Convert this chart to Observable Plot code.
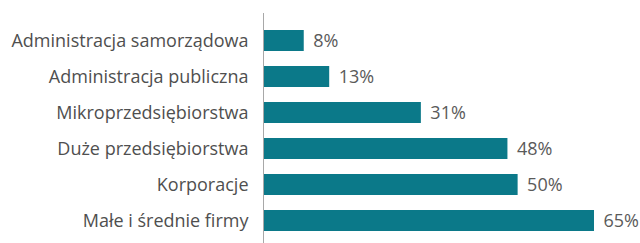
<!DOCTYPE html>
<html>
<head>
<meta charset="utf-8">
<script src="https://cdn.jsdelivr.net/npm/d3@7"></script>
<script src="https://cdn.jsdelivr.net/npm/@observablehq/plot@0.6"></script>
<style>
  html, body { margin: 0; padding: 0; background: #fff; }
  #chart svg { display: block; }
</style>
</head>
<body>
<div id="chart"></div>
<script>
const categories = [
  "Administracja samorządowa",
  "Administracja publiczna",
  "Mikroprzedsiębiorstwa",
  "Duże przedsiębiorstwa",
  "Korporacje",
  "Małe i średnie firmy"
];
const values = [8, 13, 31, 48, 50, 65];

const data = categories.map((c, i) => ({category: c, value: values[i]}));

const chart = Plot.plot({
  width: 640,
  height: 243,
  marginLeft: 263,
  marginRight: 0,
  marginTop: 13,
  marginBottom: 0,
  style: {fontFamily: "'Open Sans', sans-serif", fontSize: "18px", color: "#4f4f4f", background: "#fff"},
  x: {domain: [0, 65], range: [263, 594], axis: null},
  y: {domain: categories, paddingInner: 0.422, paddingOuter: 0.375, align: 0.586, label: null, tickSize: 0, tickPadding: 15},
  marks: [
    Plot.barX(data, {x: "value", y: "category", fill: "#0b7989"}),
    Plot.ruleX([0], {stroke: "#a8a8a8", strokeWidth: 1}),
    Plot.text(data, {x: "value", y: "category", text: d => d.value + "%", textAnchor: "start", dx: 9, fill: "#5a5a5a", fontSize: 18})
  ]
});
document.getElementById("chart").appendChild(chart);
</script>
</body>
</html>
